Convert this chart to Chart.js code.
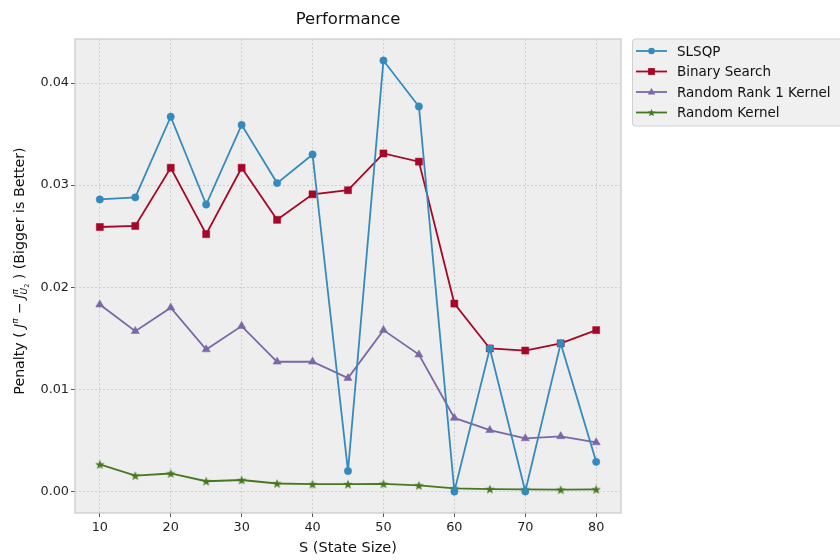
<!DOCTYPE html>
<html>
<head>
<meta charset="utf-8">
<script src="https://cdn.jsdelivr.net/npm/chart.js@4.4.1/dist/chart.umd.min.js"></script>
<style>
    html, body { margin: 0; padding: 0; background: #ffffff; }
</style>
</head>
<body>
<canvas id="perfchart" width="840" height="560"></canvas>
<script>
const perfChart = document.getElementById("perfchart");

// values
const stateSizes = [10, 15, 20, 25, 30, 35, 40, 45, 50, 55, 60, 65, 70, 75, 80];
const slsqpVals = [0.0286, 0.0288, 0.0367, 0.0281, 0.0359, 0.0302, 0.0330, 0.0020, 0.0422, 0.0377, 0.0000, 0.0140, 0.0000, 0.0145, 0.0029];
const binaryVals = [0.0259, 0.0260, 0.0317, 0.0252, 0.0317, 0.0266, 0.0291, 0.0295, 0.0331, 0.0323, 0.0184, 0.0140, 0.0138, 0.0145, 0.0158];
const rank1Vals = [0.0183, 0.0157, 0.0180, 0.0139, 0.0162, 0.0127, 0.0127, 0.0111, 0.0158, 0.0134, 0.0072, 0.0060, 0.0052, 0.0054, 0.0048];
const kernelVals = [0.00265, 0.00155, 0.00176, 0.00100, 0.00112, 0.00078, 0.00071, 0.00071, 0.00075, 0.00059, 0.00030, 0.00023, 0.00020, 0.00017, 0.00020];
const seriesNames = ["SLSQP", "Binary Search", "Random Rank 1 Kernel", "Random Kernel"];
const xTicks = [10, 20, 30, 40, 50, 60, 70, 80];
const yTicks = [0.00, 0.01, 0.02, 0.03, 0.04];

const FONT = "'DejaVu Sans', Verdana, sans-serif";
const colors = ["#348ABD", "#A60628", "#7A68A6", "#467821"];
const markers = ["circle", "rect", "triangle", "star"];

function starPath(ctx, cx, cy, ro, ri) {
    ctx.beginPath();
    for (let i = 0; i < 10; i++) {
        const r = i % 2 === 0 ? ro : ri;
        const a = -Math.PI / 2 + i * Math.PI / 5;
        const px = cx + r * Math.cos(a), py = cy + r * Math.sin(a);
        i === 0 ? ctx.moveTo(px, py) : ctx.lineTo(px, py);
    }
    ctx.closePath();
}

// matplotlib-like filled star, used as point image
const starImg = document.createElement("canvas");
starImg.width = 12;
starImg.height = 12;
(function() {
    const c = starImg.getContext("2d");
    c.fillStyle = colors[3];
    starPath(c, 6, 6.4, 5, 2.1);
    c.fill();
})();

function toPoints(vals) {
    return stateSizes.map((s, i) => ({ x: s, y: vals[i] }));
}

function drawMarker(ctx, kind, x, y, color) {
    ctx.fillStyle = color;
    ctx.strokeStyle = color;
    if (kind === "circle") {
        ctx.beginPath();
        ctx.arc(x, y, 3.3, 0, Math.PI * 2);
        ctx.fill();
    } else if (kind === "rect") {
        ctx.fillRect(x - 3.4, y - 3.4, 6.8, 6.8);
    } else if (kind === "triangle") {
        ctx.beginPath();
        ctx.moveTo(x, y - 4);
        ctx.lineTo(x + 3.7, y + 2.5);
        ctx.lineTo(x - 3.7, y + 2.5);
        ctx.closePath();
        ctx.fill();
    } else {
        starPath(ctx, x, y + 0.4, 4.2, 1.8);
        ctx.fill();
    }
}

// background, frame, titles and legend
const decorPlugin = {
    id: "decor",
    beforeDraw(chart) {
        const { ctx, chartArea: a } = chart;
        ctx.save();
        ctx.fillStyle = "#ffffff";
        ctx.fillRect(0, 0, chart.width, chart.height);
        ctx.fillStyle = "#eeeeee";
        ctx.fillRect(a.left, a.top, a.right - a.left, a.bottom - a.top);
        ctx.restore();
    },
    afterDraw(chart) {
        const { ctx, chartArea: a } = chart;
        ctx.save();

        // frame
        ctx.strokeStyle = "#c8c8c8";
        ctx.lineWidth = 1.2;
        ctx.strokeRect(a.left, a.top, a.right - a.left, a.bottom - a.top);

        const midX = (a.left + a.right) / 2;
        ctx.fillStyle = "#111111";
        ctx.textAlign = "center";
        ctx.textBaseline = "alphabetic";

        // title
        ctx.font = "16.5px " + FONT;
        ctx.fillText("Performance", midX, 24);

        // x title
        ctx.font = "14.5px " + FONT;
        ctx.fillText("S (State Size)", midX, 552);

        // y title with math parts
        const segs = [
            { t: "Penalty ( ", s: 14.2, it: false, dy: 0 },
            { t: "J", s: 13.5, it: true, dy: 0 },
            { t: "π", s: 9, it: true, dy: -6 },
            { t: " − ", s: 13.5, it: false, dy: 0 },
            { t: "J", s: 13.5, it: true, dy: 0 },
            { t: "π", s: 9, it: true, dy: -6, stack: true },
            { t: "U", s: 9, it: true, dy: 3.5 },
            { t: "2", s: 6.5, it: false, dy: 5.5 },
            { t: " ) (Bigger is Better)", s: 14.2, it: false, dy: 0 }
        ];
        const fontOf = sg => (sg.it ? "italic " : "") + sg.s + "px " + FONT;
        let total = 0, stackW = 0;
        const widths = segs.map(sg => { ctx.font = fontOf(sg); return ctx.measureText(sg.t).width; });
        segs.forEach((sg, i) => {
            if (sg.stack) { stackW = widths[i]; return; }
            total += widths[i];
        });
        const subW = widths[6] + widths[7];
        total += Math.max(stackW, subW) - subW;

        ctx.translate(18, 271);
        ctx.rotate(-Math.PI / 2);
        ctx.textAlign = "left";
        let cx = -total / 2;
        let stackX = 0;
        segs.forEach((sg, i) => {
            ctx.font = fontOf(sg);
            if (sg.stack) {
                stackX = cx;
                ctx.fillText(sg.t, cx, 5.5 + sg.dy);
                return;
            }
            ctx.fillText(sg.t, cx, 5.5 + sg.dy);
            cx += widths[i];
            if (i === 7) cx = stackX + Math.max(stackW, subW);
        });
        ctx.restore();

        // legend
        ctx.save();
        const lx = 632, ly = 38.5;
        ctx.fillStyle = "#f0f0f0";
        ctx.strokeStyle = "#d0d0d0";
        ctx.lineWidth = 1;
        ctx.beginPath();
        ctx.roundRect(lx + 0.5, ly + 0.5, 230, 87, 3);
        ctx.fill();
        ctx.stroke();
        ctx.font = "13.5px " + FONT;
        ctx.textAlign = "left";
        ctx.textBaseline = "middle";
        seriesNames.forEach((name, i) => {
            const y = 51 + i * 20.5;
            ctx.strokeStyle = colors[i];
            ctx.lineWidth = 1.8;
            ctx.beginPath();
            ctx.moveTo(636, y);
            ctx.lineTo(667, y);
            ctx.stroke();
            drawMarker(ctx, markers[i], 651.5, y, colors[i]);
            ctx.fillStyle = "#111111";
            ctx.fillText(name, 677, y + 1);
        });
        ctx.restore();
    }
};

const vals = [slsqpVals, binaryVals, rank1Vals, kernelVals];
const pointStyles = ["circle", "rect", "triangle", starImg];
const pointRadii = [3.7, 5, 4.7, 5];

new Chart(perfChart, {
    type: "line",
    data: {
        datasets: vals.map((v, i) => ({
            label: seriesNames[i],
            data: toPoints(v),
            borderColor: colors[i],
            backgroundColor: colors[i],
            pointBackgroundColor: colors[i],
            pointBorderColor: colors[i],
            pointBorderWidth: 0.5,
            pointStyle: pointStyles[i],
            pointRadius: pointRadii[i],
            borderWidth: 1.8,
            tension: 0,
            fill: false
        }))
    },
    options: {
        responsive: false,
        animation: false,
        devicePixelRatio: 1,
        events: [],
        layout: {
            padding: { top: 39, right: 219, left: 0, bottom: 0 }
        },
        plugins: {
            legend: { display: false },
            title: { display: false },
            tooltip: { enabled: false }
        },
        scales: {
            x: {
                type: "linear",
                min: 6.5,
                max: 83.5,
                afterBuildTicks: s => { s.ticks = xTicks.map(v => ({ value: v })); },
                afterFit: s => { s.height = 47; },
                ticks: {
                    color: "#222222",
                    font: { family: FONT, size: 12.8 },
                    padding: 3,
                    maxRotation: 0,
                    callback: v => String(v)
                },
                grid: {
                    color: "#cfcfcf",
                    lineWidth: 1,
                    tickLength: 4,
                    tickColor: "#555555",
                    tickWidth: 1
                },
                border: { display: false, dash: [2, 2] }
            },
            y: {
                type: "linear",
                min: -0.00211,
                max: 0.04431,
                afterBuildTicks: s => { s.ticks = yTicks.map(v => ({ value: v })); },
                afterFit: s => { s.width = 75; },
                ticks: {
                    color: "#222222",
                    font: { family: FONT, size: 12.8 },
                    padding: 2,
                    callback: v => v.toFixed(2)
                },
                grid: {
                    color: "#cfcfcf",
                    lineWidth: 1,
                    tickLength: 4,
                    tickColor: "#555555",
                    tickWidth: 1
                },
                border: { display: false, dash: [2, 2] }
            }
        }
    },
    plugins: [decorPlugin]
});
</script>
</body>
</html>
